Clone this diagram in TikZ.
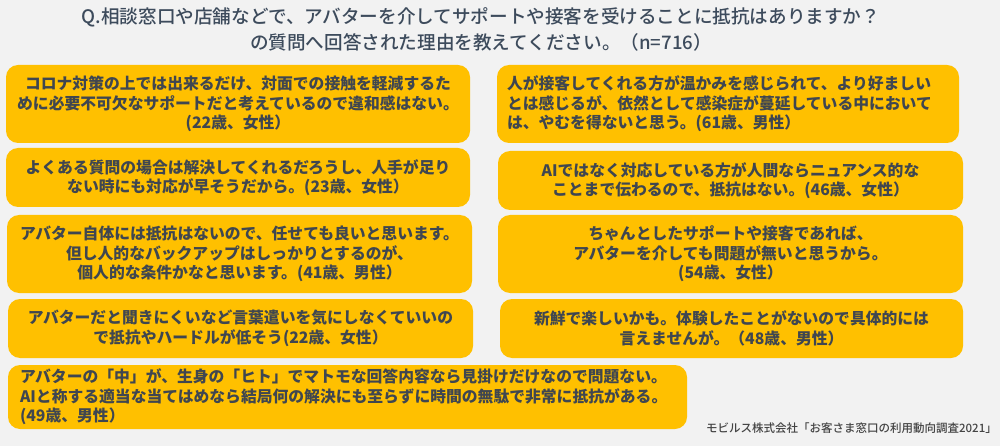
\documentclass[tikz,border=0pt]{standalone}
\usepackage{fontspec}
\setmainfont{Noto Sans CJK JP}
\newfontfamily\medfont{Noto Sans CJK JP Medium}
\definecolor{bgc}{HTML}{F2F2F2}
\definecolor{cardfill}{HTML}{FFC000}
\definecolor{cardtext}{HTML}{3F4650}
\definecolor{titlec}{HTML}{3D4B5C}
\definecolor{footc}{HTML}{444444}
\tikzset{
  card/.style={fill=cardfill, rounded corners=12pt, text=cardtext,
    font=\bfseries\fontsize{15.8}{19.5}\selectfont,
    inner xsep=10pt, inner ysep=0pt, align=center},
  cardl/.style={card, align=left},
}
\begin{document}
\begin{tikzpicture}[x=1pt,y=-1pt]
\fill[bgc] (0,0) rectangle (1000,446);
\useasboundingbox (0,0) rectangle (1000,446);

\node[font=\medfont\fontsize{18.6}{26}\selectfont, text=titlec, align=center, inner sep=0pt] (title) at (481,29)
  {Q.相談窓口や店舗などで、アバターを介してサポートや接客を受けることに抵抗はありますか？\\の質問へ回答された理由を教えてください。（n=716）};

\node[card, text width=444pt, minimum height=78pt] (c1) at (238,104)
  {コロナ対策の上では出来るだけ、対面での接触を軽減するた\\めに必要不可欠なサポートだと考えているので違和感はない。\\(22歳、女性）};
\node[cardl, text width=442pt, minimum height=78pt] (c2) at (728,104)
  {人が接客してくれる方が温かみを感じられて、より好ましい\\とは感じるが、依然として感染症が蔓延している中において\\は、やむを得ないと思う。(61歳、男性）};

\node[card, text width=444pt, minimum height=59pt] (c3) at (238,177.5)
  {よくある質問の場合は解決してくれるだろうし、人手が足り\\ない時にも対応が早そうだから。(23歳、女性）};
\node[card, text width=445pt, minimum height=59pt] (c4) at (730.5,180.5)
  {AIではなく対応している方が人間ならニュアンス的な\\ことまで伝わるので、抵抗はない。(46歳、女性）};

\node[card, text width=445pt, minimum height=78pt] (c5) at (239.5,254)
  {アバター自体には抵抗はないので、任せても良いと思います。\\但し人的なバックアップはしっかりとするのが、\\個人的な条件かなと思います。(41歳、男性）};
\node[card, text width=445pt, minimum height=78pt] (c6) at (730.5,254)
  {ちゃんとしたサポートや接客であれば、\\アバターを介しても問題が無いと思うから。\\(54歳、女性）};

\node[card, text width=445pt, minimum height=59pt] (c7) at (240.5,328.5)
  {アバターだと聞きにくいなど言葉遣いを気にしなくていいの\\で抵抗やハードルが低そう(22歳、女性）};
\node[card, text width=443pt, minimum height=59pt] (c8) at (731.5,328.5)
  {新鮮で楽しいかも。体験したことがないので具体的には\\言えませんが。（48歳、男性）};

\node[cardl, inner xsep=12pt, text width=655pt, minimum height=64pt] (c9) at (347.5,397)
  {アバターの「中」が、生身の「ヒト」でマトモな回答内容なら見掛けだけなので問題ない。\\AIと称する適当な当てはめなら結局何の解決にも至らずに時間の無駄で非常に抵抗がある。\\(49歳、男性）};

\node[anchor=east, font=\medfont\fontsize{11.5}{13}\selectfont, text=footc, inner sep=0pt] (src) at (997,428)
  {モビルス株式会社「お客さま窓口の利用動向調査2021」};
\end{tikzpicture}
\end{document}
